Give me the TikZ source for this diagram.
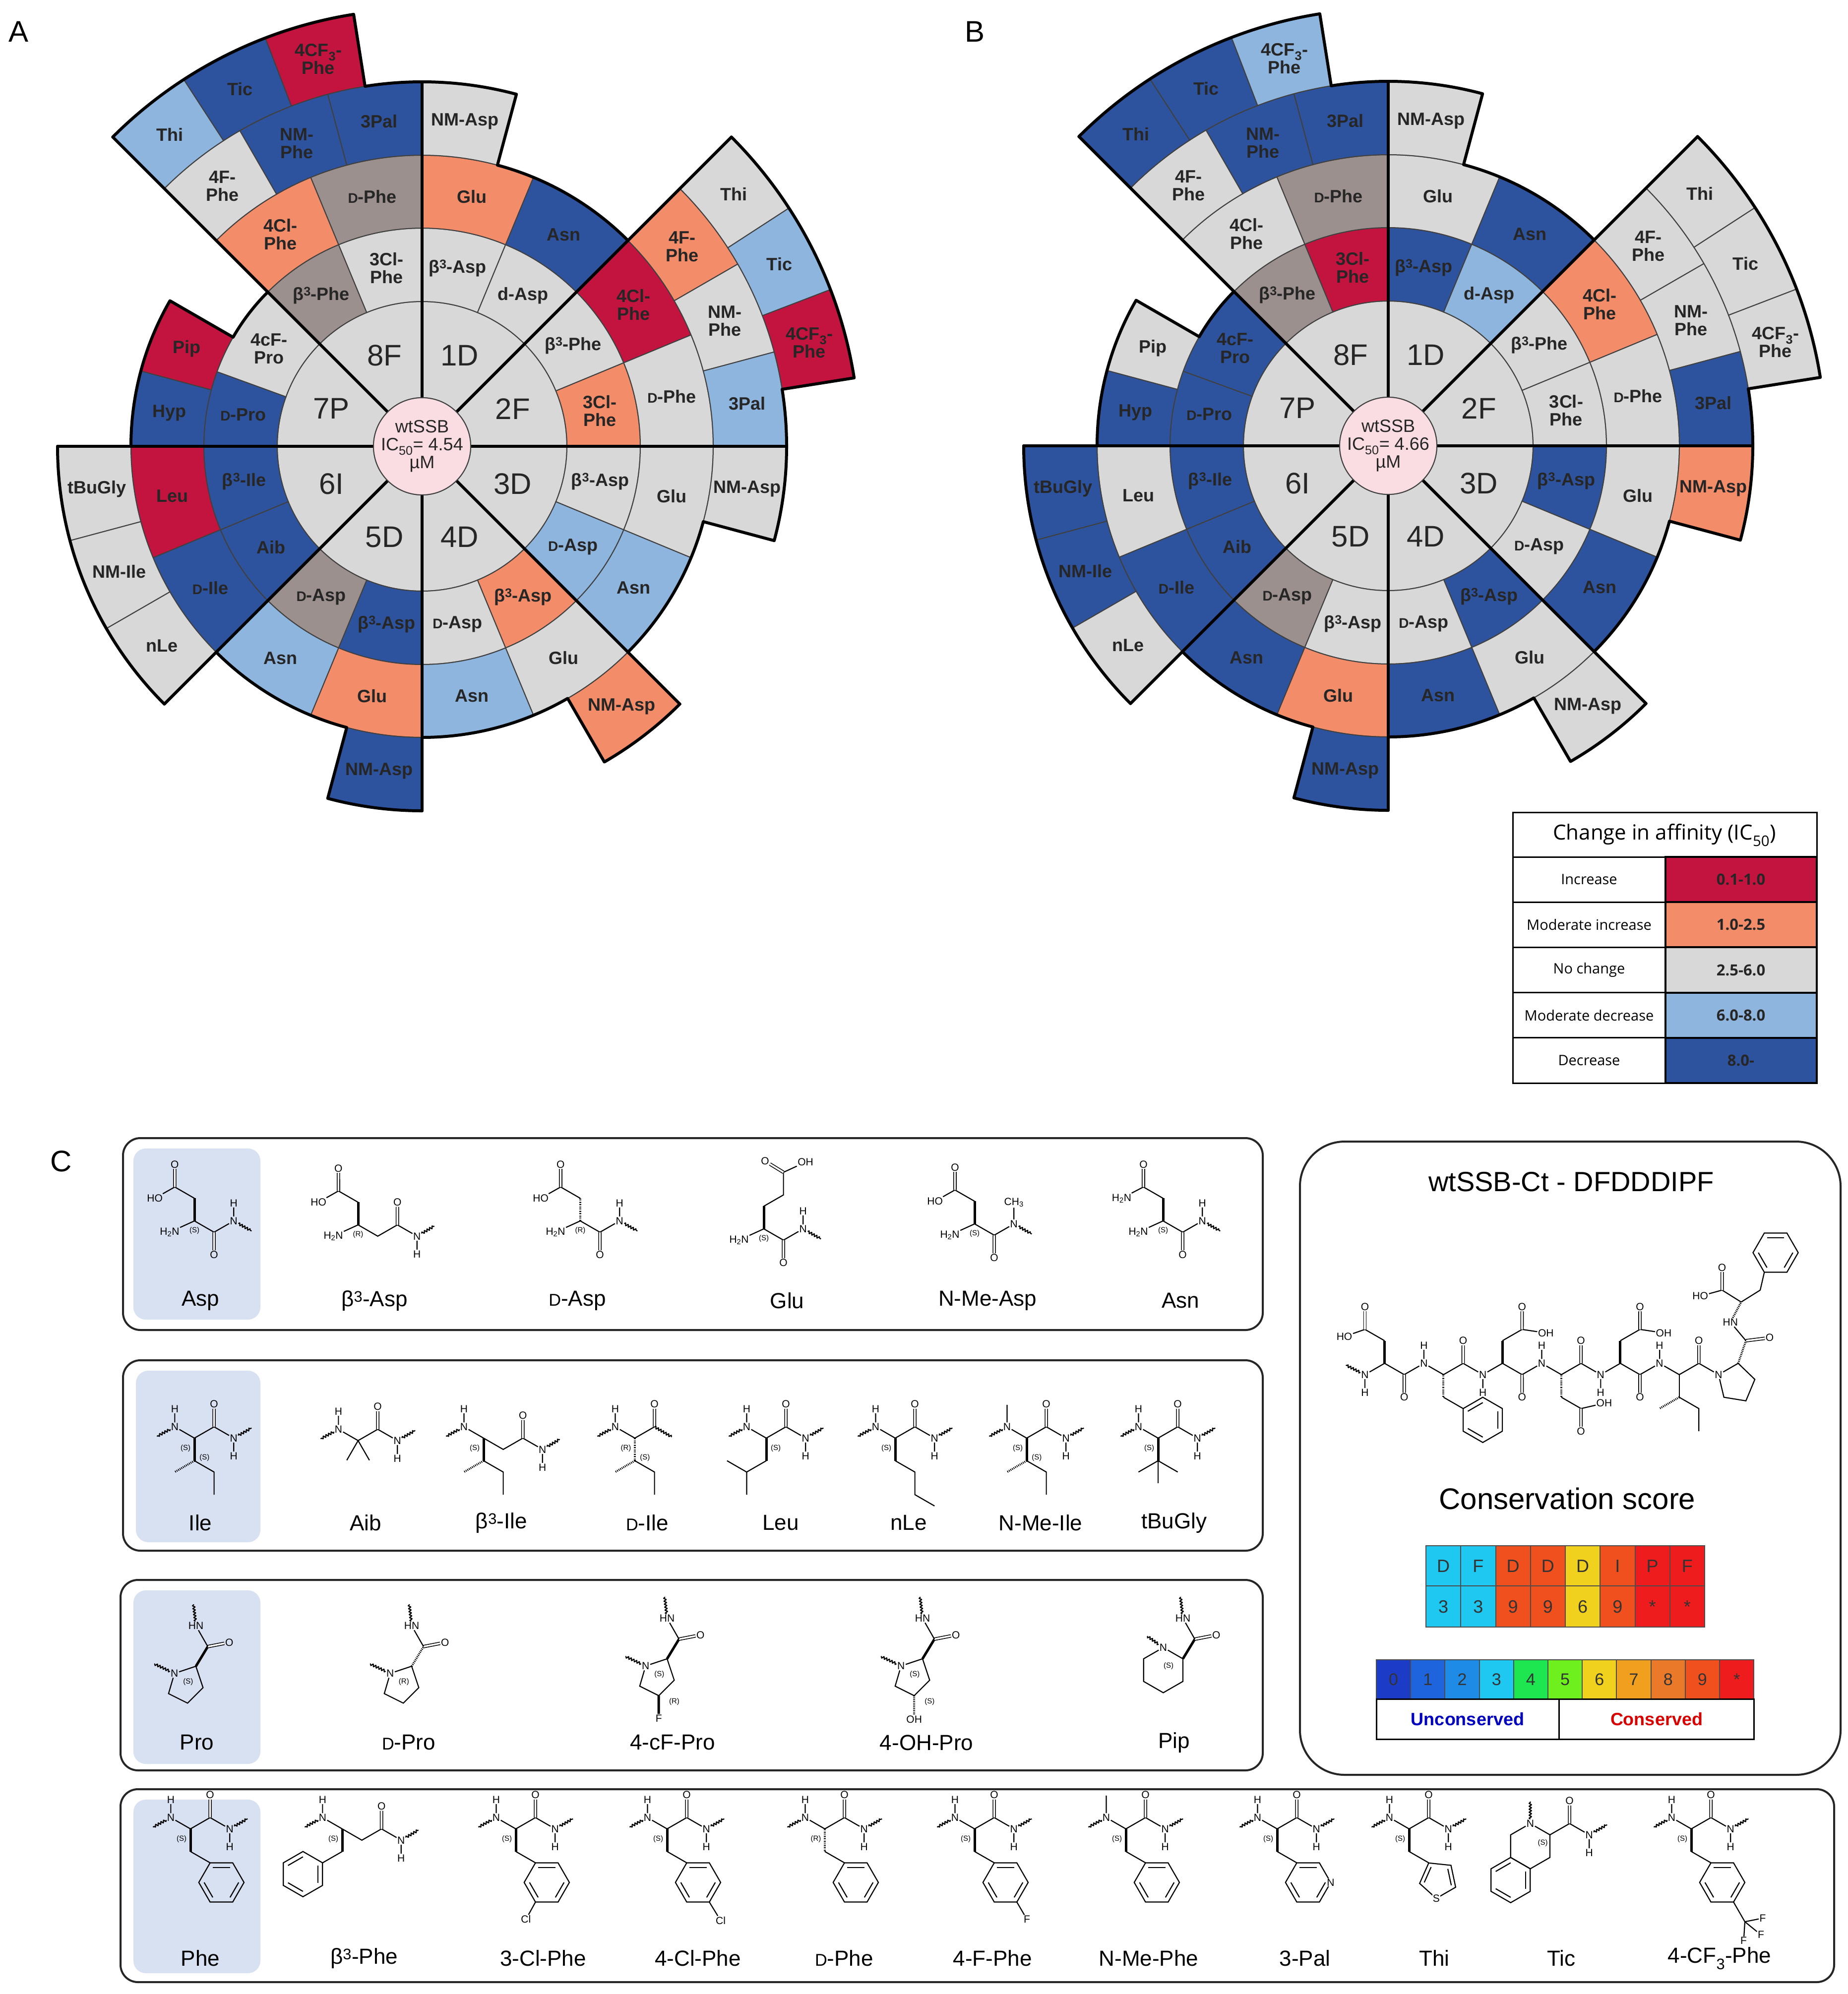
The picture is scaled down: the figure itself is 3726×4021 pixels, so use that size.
\documentclass[tikz,border=0pt]{standalone}
\usepackage{fontspec}
\setmainfont{Liberation Sans}
\newfontfamily\legfont{Open Sans}
\usepackage{graphicx}
\usetikzlibrary{decorations.pathmorphing}
\definecolor{cr}{HTML}{C3143F}
\definecolor{sal}{HTML}{F28C69}
\definecolor{lg}{HTML}{D9D8D9}
\definecolor{lb}{HTML}{8EB5DE}
\definecolor{db}{HTML}{2E539E}
\definecolor{br}{HTML}{9B908D}
\definecolor{pinkc}{HTML}{FADDE3}
\definecolor{boxb}{HTML}{D8E1F1}
\definecolor{s0}{HTML}{1C3CC8}\definecolor{s1}{HTML}{1E64DC}\definecolor{s2}{HTML}{1E8CE6}
\definecolor{s3}{HTML}{1EC8F0}\definecolor{s4}{HTML}{1EE650}\definecolor{s5}{HTML}{6EF01E}
\definecolor{s6}{HTML}{F0D21E}\definecolor{s7}{HTML}{F0A01E}\definecolor{s8}{HTML}{EA7A2A}
\definecolor{s9}{HTML}{F0501E}\definecolor{sx}{HTML}{EE1C1C}
\newcommand\fsz[1]{\fontsize{#1}{#1}\selectfont}
\newcommand\smD{\scalebox{0.78}{D}}
\tikzset{
 cellb/.style={draw=black!75, line width=2pt},
 outl/.style={line width=6pt, line cap=round, line join=round},
 lab/.style={font=\bfseries\fsz{36}, align=center, text=black!85, inner sep=0pt},
 seclab/.style={font=\fsz{60}, text=black!85},
 ctr/.style={font=\fsz{36}, align=center, text=black!85},
 atm/.style={inner sep=1.5pt, font=\fsz{21}},
 st/.style={inner sep=0pt, font=\fsz{15}},
 bnd/.style={line width=2.2pt},
 wdg/.style={line width=5pt},
 hsh/.style={line width=4pt, dash pattern=on 1.6pt off 2pt},
 dbl/.style={double, double distance=3.5pt, line width=1.6pt},
 mol/.style 2 args={shift={(#1,#2)}, yscale=-1, scale=1.2},
 cname/.style={font=\fsz{44}},
 cbox/.style={draw=black!85, line width=4pt, rounded corners=35pt},
 bbox/.style={fill=boxb, rounded corners=25pt},
 pl/.style={font=\fsz{60}}
}
\newcommand\wav[2]{\draw[bnd,decorate,decoration={snake,amplitude=2.2pt,segment length=6pt}] #1 -- #2;}
\newcommand\benz[2]{\begin{scope}[shift={#1}]
 \draw[bnd] (#2:38) -- ({#2+60}:38) -- ({#2+120}:38) -- ({#2+180}:38) -- ({#2+240}:38) -- ({#2+300}:38) -- cycle;
 \foreach \k in {60,180,300}{\draw[bnd] ({#2+\k}:29) -- ({#2+\k+60}:29);}
 \end{scope}}
\newcommand\amd[1]{\coordinate (cc) at (33,{-19*(#1)});
 \node[atm] (oo) at (33,{-57*(#1)}) {O};
 \node[atm] (nr) at (66,0) {N};
 \node[atm] (hr) at (66,{30*(#1)}) {H};
 \draw[bnd] (ca) -- (cc) -- (nr) -- (hr);
 \draw[dbl] (cc) -- (oo);
 \wav{(nr)}{(96,{-17*(#1)})}}
\newcommand\Lam{\node[atm,anchor=east] (nl) at (-24,-19) {H\textsubscript{2}N}; \draw[bnd] (ca) -- (nl);}
\newcommand\Lbn{\node[atm] (nl) at (-33,19) {N}; \node[atm] (hl) at (-33,49) {H}; \draw[bnd] (hl) -- (nl) -- (ca); \wav{(nl)}{(-63,3)}}
\newcommand\Lbme{\node[atm] (nl) at (-33,19) {N}; \draw[bnd] (nl) -- (ca); \draw[bnd] (nl) -- (-33,56); \wav{(nl)}{(-63,3)}}
\newcommand\aspside[2]{\coordinate (s1) at (0,38); \coordinate (s2) at (-33,57);
 \node[atm] (so) at (-33,95) {O}; \node[atm,anchor=east] (sh) at (-52,38) {#2};
 \draw[#1] (ca) -- (s1); \draw[bnd] (s1) -- (s2) -- (sh); \draw[dbl] (s2) -- (so);}
\newcommand\ileside[1]{\coordinate (s1) at (0,-38); \draw[#1] (ca) -- (s1);
 \draw[hsh] (s1) -- (-33,-57); \draw[bnd] (s1) -- (33,-57) -- (33,-95);}
% benzyl: ring hangs below-right, ipso at 120 deg, para vertex (71,-123)
\newcommand\pheside[1]{\coordinate (s1) at (0,-38); \draw[#1] (ca) -- (s1);
 \draw[bnd] (s1) -- (33,-57); \benz{(52,-90)}{120}}
\newcommand\betaB{\coordinate (m) at (33,-19); \coordinate (cc) at (66,0);
 \node[atm] (oo) at (66,38) {O}; \node[atm] (nr) at (99,-19) {N}; \node[atm] (hr) at (99,-49) {H};
 \draw[bnd] (ca) -- (m) -- (cc) -- (nr) -- (hr); \draw[dbl] (cc) -- (oo); \wav{(nr)}{(128,-2)}}
\newcommand\proring{\node[atm] (rn) at (-36,-12) {N}; \coordinate (rb) at (12,-36);
 \coordinate (rg) at (-14,-62); \coordinate (rd) at (-46,-46);
 \draw[bnd] (rn) -- (ca) -- (rb) -- (rg) -- (rd) -- (rn); \wav{(rn)}{(-70,4)}}
\newcommand\procarb[1]{\coordinate (cc) at (20,33); \node[atm] (oo) at (56,40) {O};
 \node[atm] (hn) at (0,68) {HN}; \draw[#1] (ca) -- (cc); \draw[dbl] (cc) -- (oo);
 \draw[bnd] (cc) -- (hn); \wav{(hn)}{(-4,104)}}

\newcommand\Wheel[4]{%
\begin{scope}[shift={(#1,#2)}, yscale=-1]
 \foreach \a/\b/\lab in {45/90/1D,0/45/2F,-45/0/3D,-90/-45/4D,-135/-90/5D,180/225/6I,135/180/7P,90/135/8F}{
  \filldraw[fill=lg,cellb] (\a:98) arc[start angle=\a,end angle=\b,radius=98] -- (\b:292) arc[start angle=\b,end angle=\a,radius=292] -- cycle;
  \node[seclab] at ({(\a+\b)/2}:198) {\lab};}
 \foreach \a/\b/\ra/\rb/\lab [count=\i from 0] in {
  67.5/90/292/440/β\textsuperscript{3}-Asp, 45/67.5/292/440/d-Asp, 22.5/45/292/440/β\textsuperscript{3}-Phe, 0/22.5/292/440/3Cl-\\Phe,
  -22.5/0/292/440/β\textsuperscript{3}-Asp, -45/-22.5/292/440/\smD-Asp, -67.5/-45/292/440/β\textsuperscript{3}-Asp, -90/-67.5/292/440/\smD-Asp,
  -112.5/-90/292/440/β\textsuperscript{3}-Asp, -135/-112.5/292/440/\smD-Asp, 180/202.5/292/440/β\textsuperscript{3}-Ile, 202.5/225/292/440/Aib,
  160/180/292/440/\smD-Pro, 135/160/292/440/4cF-\\Pro, 90/112.5/292/440/3Cl-\\Phe, 112.5/135/292/440/β\textsuperscript{3}-Phe,
  67.5/90/440/587/Glu, 45/67.5/440/587/Asn, 22.5/45/440/587/4Cl-\\Phe, 0/22.5/440/587/\smD-Phe,
  -22.5/0/440/587/Glu, -45/-22.5/440/587/Asn, -67.5/-45/440/587/Glu, -90/-67.5/440/587/Asn,
  -112.5/-90/440/587/Glu, -135/-112.5/440/587/Asn, 180/202.5/440/587/Leu, 202.5/225/440/587/\smD-Ile,
  165/180/440/587/Hyp, 150/165/440/587/Pip, 90/112.5/440/587/\smD-Phe, 112.5/135/440/587/4Cl-\\Phe,
  75/90/587/735/NM-Asp, 30/45/587/735/4F-\\Phe, 15/30/587/735/NM-\\Phe, 0/15/587/735/3Pal,
  -15/0/587/735/NM-Asp, -60/-45/587/735/NM-Asp, -105/-90/587/735/NM-Asp,
  180/195/587/735/tBuGly, 195/210/587/735/NM-Ile, 210/225/587/735/nLe,
  90/105/587/735/3Pal, 105/120/587/735/NM-\\Phe, 120/135/587/735/4F-\\Phe,
  33/45/735/882/Thi, 21/33/735/882/Tic, 9/21/735/882/4CF\textsubscript{3}-\\Phe,
  123/135/735/882/Thi, 111/123/735/882/Tic, 99/111/735/882/4CF\textsubscript{3}-\\Phe}{
  \pgfmathparse{#4[\i]}\edef\mycol{\pgfmathresult}
  \filldraw[fill=\mycol,cellb] (\a:\ra) arc[start angle=\a,end angle=\b,radius=\ra] -- (\b:\rb) arc[start angle=\b,end angle=\a,radius=\rb] -- cycle;
  \node[lab] at ({(\a+\b)/2}:{(\ra+\rb)/2}) {\lab};}
 \draw[outl] (45:587) arc[start angle=45,end angle=75,radius=587] -- (75:735) arc[start angle=75,end angle=90,radius=735];
 \draw[outl] (0:735) arc[start angle=0,end angle=9,radius=735] -- (9:882) arc[start angle=9,end angle=45,radius=882];
 \draw[outl] (-45:587) arc[start angle=-45,end angle=-15,radius=587] -- (-15:735) arc[start angle=-15,end angle=0,radius=735];
 \draw[outl] (-90:587) arc[start angle=-90,end angle=-60,radius=587] -- (-60:735) arc[start angle=-60,end angle=-45,radius=735];
 \draw[outl] (-135:587) arc[start angle=-135,end angle=-105,radius=587] -- (-105:735) arc[start angle=-105,end angle=-90,radius=735];
 \draw[outl] (180:735) arc[start angle=180,end angle=225,radius=735];
 \draw[outl] (135:440) arc[start angle=135,end angle=150,radius=440] -- (150:587) arc[start angle=150,end angle=180,radius=587];
 \draw[outl] (90:735) arc[start angle=90,end angle=99,radius=735] -- (99:882) arc[start angle=99,end angle=135,radius=882];
 \foreach \a/\r in {90/735,45/882,0/735,-45/735,-90/735,225/735,180/735,135/882}{\draw[outl] (\a:98) -- (\a:\r);}
 \filldraw[fill=pinkc,cellb] (0,0) circle[radius=98];
 \node[ctr] at (0,0) {wtSSB\\IC\textsubscript{50}= #3\\µM};
\end{scope}}

\begin{document}
\begin{tikzpicture}[x=1pt,y=-1pt]
\useasboundingbox[fill=white] (0,0) rectangle (3726,4021);
\node[pl] (lA) at (38,64) {A};
\node[pl] (lB) at (1965,64) {B};
\node[pl] (lC) at (123,2342) {C};

\Wheel{851}{900}{4.54}{{"lg","lg","lg","sal","lg","lb","sal","lg","db","br","db","db","db","lg","lg","br",
"sal","db","cr","lg","lg","lb","lg","lb","sal","lb","cr","db","db","cr","br","sal",
"lg","sal","lg","lb","lg","sal","db","lg","lg","lg","db","db","lg",
"lg","lb","cr","lb","db","cr"}}
\Wheel{2799}{899}{4.66}{{"db","lb","lg","lg","db","lg","db","lg","lg","br","db","db","db","db","cr","br",
"lg","db","sal","lg","lg","db","lg","db","sal","db","lg","db","db","lg","br","lg",
"lg","lg","lg","db","sal","lg","db","db","db","lg","db","db","lg",
"lg","lg","lg","db","db","lb"}}

% legend
\draw[line width=3pt] (3050,1638) rectangle (3663,1728);
\node[font=\legfont\fsz{42}] (lgh) at (3356,1684) {Change in affinity (IC\textsubscript{50})};
\foreach \t/\v/\c [count=\i from 0] in {Increase/0.1-1.0/cr, Moderate increase/1.0-2.5/sal, No change/2.5-6.0/lg, Moderate decrease/6.0-8.0/lb, Decrease/8.0-/db}{
 \pgfmathsetmacro\yt{1728+91.2*\i}
 \draw[line width=3pt] (3050,\yt) rectangle (3358,\yt+91.2);
 \filldraw[fill=\c, draw=black, line width=4pt] (3358,\yt) rectangle (3663,\yt+91.2);
 \node[font=\legfont\fsz{29}] at (3204,\yt+45.6) {\t};
 \node[font=\legfont\bfseries\fsz{31}, text=black!85] at (3510,\yt+45.6) {\v};}

% panel C boxes
\draw[cbox] (248,2295) rectangle (2546,2682);
\fill[bbox] (269,2316) rectangle (525,2661);
\draw[cbox] (248,2743) rectangle (2546,3127);
\fill[bbox] (274,2764) rectangle (525,3110);
\draw[cbox] (243,3186) rectangle (2546,3570);
\fill[bbox] (269,3207) rectangle (525,3557);
\draw[cbox] (243,3608) rectangle (3698,3997);
\fill[bbox] (269,3629) rectangle (525,3979);
\draw[cbox, rounded corners=90pt] (2621,2302) rectangle (3711,3579);

% names
\foreach \x/\t in {404/Asp,755/β\textsuperscript{3}-Asp,1164/\smD-Asp,1587/Glu,1991/N-Me-Asp,2380/Asn}{\node[cname] at (\x,2623) {\t};}
\foreach \x/\t in {404/Ile,737/Aib,1011/β\textsuperscript{3}-Ile,1305/\smD-Ile,1574/Leu,1832/nLe,2098/N-Me-Ile,2367/tBuGly}{\node[cname] at (\x,3071) {\t};}
\foreach \x/\t in {397/Pro,824/\smD-Pro,1356/4-cF-Pro,1868/4-OH-Pro,2367/Pip}{\node[cname] at (\x,3514) {\t};}
\foreach \x/\t in {404/Phe,734/β\textsuperscript{3}-Phe,1095/3-Cl-Phe,1407/4-Cl-Phe,1702/\smD-Phe,2001/4-F-Phe,2316/N-Me-Phe,2631/3-Pal,2892/Thi,3148/Tic,3467/4-CF\textsubscript{3}-Phe}{\node[cname] at (\x,3949) {\t};}

% ---- series 1
\begin{scope}[mol={392}{2462}]
 \coordinate (ca) at (0,0); \Lam \amd{1} \aspside{wdg}{HO} \node[st] at (0,-16) {(S)};
\end{scope}
\begin{scope}[mol={722}{2470}]
 \coordinate (ca) at (0,0); \Lam \aspside{wdg}{HO} \betaB \node[st] at (0,-16) {(R)};
\end{scope}
\begin{scope}[mol={1170}{2462}]
 \coordinate (ca) at (0,0); \Lam \amd{1} \aspside{hsh}{HO} \node[st] at (0,-16) {(R)};
\end{scope}
\begin{scope}[mol={1540}{2478}]
 \coordinate (ca) at (0,0); \Lam \amd{1}
 \coordinate (s1) at (0,38); \coordinate (s2) at (33,57); \coordinate (s3) at (33,95);
 \node[atm] (so) at (2,114) {O}; \node[atm] (sh) at (70,112) {OH};
 \draw[wdg] (ca) -- (s1); \draw[bnd] (s1) -- (s2) -- (s3) -- (sh); \draw[dbl] (s3) -- (so);
 \node[st] at (0,-16) {(S)};
\end{scope}
\begin{scope}[mol={1965}{2468}]
 \coordinate (ca) at (0,0); \Lam \aspside{wdg}{HO}
 \coordinate (cc) at (33,-19); \node[atm] (oo) at (33,-57) {O}; \node[atm] (nr) at (66,0) {N};
 \node[atm] (me) at (66,36) {CH\textsubscript{3}};
 \draw[bnd] (ca) -- (cc) -- (nr) -- (me); \draw[dbl] (cc) -- (oo); \wav{(nr)}{(96,-17)}
 \node[st] at (0,-16) {(S)};
\end{scope}
\begin{scope}[mol={2345}{2462}]
 \coordinate (ca) at (0,0); \Lam \amd{1} \aspside{wdg}{H\textsubscript{2}N} \node[st] at (0,-16) {(S)};
\end{scope}

% ---- series 2
\begin{scope}[mol={392}{2900}]
 \coordinate (ca) at (0,0); \Lbn \amd{-1} \ileside{wdg} \node[st] at (-15,-17) {(S)}; \node[st] at (17,-33) {(S)};
\end{scope}
\begin{scope}[mol={722}{2905}]
 \coordinate (ca) at (0,0); \Lbn \amd{-1} \draw[bnd] (ca) -- (-19,-33); \draw[bnd] (ca) -- (19,-33);
\end{scope}
\begin{scope}[mol={975}{2900}]
 \coordinate (ca) at (0,0); \Lbn \betaB \ileside{wdg} \node[st] at (-15,-17) {(S)};
\end{scope}
\begin{scope}[mol={1280}{2900}]
 \coordinate (ca) at (0,0); \Lbn \coordinate (cc) at (33,19); \node[atm] (oo) at (33,57) {O};
 \draw[bnd] (ca) -- (cc); \draw[dbl] (cc) -- (oo); \wav{(cc)}{(62,2)}
 \ileside{hsh} \node[st] at (-15,-17) {(R)}; \node[st] at (17,-33) {(S)};
\end{scope}
\begin{scope}[mol={1545}{2900}]
 \coordinate (ca) at (0,0); \Lbn \amd{-1}
 \coordinate (s1) at (0,-38); \coordinate (s2) at (-33,-57); \draw[wdg] (ca) -- (s1);
 \draw[bnd] (s1) -- (s2) -- (-33,-95); \draw[bnd] (s2) -- (-66,-38);
 \node[st] at (16,-17) {(S)};
\end{scope}
\begin{scope}[mol={1805}{2900}]
 \coordinate (ca) at (0,0); \Lbn \amd{-1}
 \coordinate (s1) at (0,-38); \draw[wdg] (ca) -- (s1);
 \draw[bnd] (s1) -- (33,-57) -- (33,-95) -- (66,-114);
 \node[st] at (-15,-17) {(S)};
\end{scope}
\begin{scope}[mol={2070}{2900}]
 \coordinate (ca) at (0,0); \Lbme \amd{-1} \ileside{wdg} \node[st] at (-15,-17) {(S)}; \node[st] at (17,-33) {(S)};
\end{scope}
\begin{scope}[mol={2335}{2900}]
 \coordinate (ca) at (0,0); \Lbn \amd{-1}
 \coordinate (s1) at (0,-38); \draw[wdg] (ca) -- (s1);
 \draw[bnd] (s1) -- (-33,-57); \draw[bnd] (s1) -- (33,-57); \draw[bnd] (s1) -- (0,-76);
 \node[st] at (-15,-17) {(S)};
\end{scope}

% ---- series 3
\begin{scope}[mol={395}{3360}]
 \coordinate (ca) at (0,0); \proring \procarb{wdg} \node[st] at (-13,-26) {(S)};
\end{scope}
\begin{scope}[mol={830}{3360}]
 \coordinate (ca) at (0,0); \proring \procarb{hsh} \node[st] at (-13,-26) {(R)};
\end{scope}
\begin{scope}[mol={1345}{3345}]
 \coordinate (ca) at (0,0); \proring \procarb{wdg}
 \node[atm] (ff) at (-14,-100) {F}; \draw[wdg] (rg) -- (ff);
 \node[st] at (-13,-26) {(S)}; \node[st] at (12,-72) {(R)};
\end{scope}
\begin{scope}[mol={1860}{3345}]
 \coordinate (ca) at (0,0); \proring \procarb{wdg}
 \node[atm] (oh) at (-14,-102) {OH}; \draw[hsh] (rg) -- (oh);
 \node[st] at (-13,-26) {(S)}; \node[st] at (12,-72) {(S)};
\end{scope}
\begin{scope}[mol={2385}{3345}]
 \coordinate (ca) at (0,0); \node[atm] (rn) at (-33,19) {N};
 \coordinate (rb) at (0,-38); \coordinate (rg) at (-33,-57); \coordinate (rd) at (-66,-38); \coordinate (re) at (-66,0);
 \draw[bnd] (rn) -- (ca) -- (rb) -- (rg) -- (rd) -- (re) -- (rn); \wav{(rn)}{(-60,38)}
 \procarb{wdg} \node[st] at (-24,-12) {(S)};
\end{scope}

% ---- series 4
\begin{scope}[mol={384}{3688}]
 \coordinate (ca) at (0,0); \Lbn \amd{-1} \pheside{wdg} \node[st] at (-15,-17) {(S)};
\end{scope}
\begin{scope}[mol={690}{3688}]
 \coordinate (ca) at (0,0); \Lbn \betaB
 \coordinate (s1) at (0,-38); \draw[wdg] (ca) -- (s1); \draw[bnd] (s1) -- (-33,-57); \benz{(-66,-76)}{30}
 \node[st] at (-15,-17) {(S)};
\end{scope}
\begin{scope}[mol={1040}{3688}]
 \coordinate (ca) at (0,0); \Lbn \amd{-1} \pheside{wdg}
 \node[atm] (cl) at (17,-152) {Cl}; \draw[bnd] (33,-123) -- (cl); \node[st] at (-15,-17) {(S)};
\end{scope}
\begin{scope}[mol={1345}{3688}]
 \coordinate (ca) at (0,0); \Lbn \amd{-1} \pheside{wdg}
 \node[atm] (cl) at (90,-154) {Cl}; \draw[bnd] (71,-123) -- (cl); \node[st] at (-15,-17) {(S)};
\end{scope}
\begin{scope}[mol={1663}{3688}]
 \coordinate (ca) at (0,0); \Lbn \amd{-1} \pheside{hsh} \node[st] at (-15,-17) {(R)};
\end{scope}
\begin{scope}[mol={1965}{3688}]
 \coordinate (ca) at (0,0); \Lbn \amd{-1} \pheside{wdg}
 \node[atm] (fl) at (88,-152) {F}; \draw[bnd] (71,-123) -- (fl); \node[st] at (-15,-17) {(S)};
\end{scope}
\begin{scope}[mol={2270}{3688}]
 \coordinate (ca) at (0,0); \Lbme \amd{-1} \pheside{wdg} \node[st] at (-15,-17) {(S)};
\end{scope}
\begin{scope}[mol={2575}{3688}]
 \coordinate (ca) at (0,0); \Lbn \amd{-1} \pheside{wdg}
 \node[atm, fill=white, inner sep=1pt] (pn) at (90,-90) {N}; \node[st] at (-15,-17) {(S)};
\end{scope}
\begin{scope}[mol={2841}{3688}]
 \coordinate (ca) at (0,0); \Lbn \amd{-1}
 \coordinate (s1) at (0,-38); \draw[wdg] (ca) -- (s1); \draw[bnd] (s1) -- (33,-57);
 \begin{scope}[shift={(49,-85)}]
  \draw[bnd] (120:32) -- (48:32) -- (-24:32) -- (-96:32) -- (-168:32) -- cycle;
  \draw[bnd] (48:24) -- (-24:24); \draw[bnd] (-168:24) -- (120:24);
  \node[atm, fill=white, inner sep=1pt] (ts) at (-96:32) {S};
 \end{scope}
 \node[st] at (-15,-17) {(S)};
\end{scope}
\begin{scope}[mol={3125}{3700}]
 \coordinate (ca) at (0,0); \node[atm] (nl) at (-33,19) {N}; \wav{(nl)}{(-33,56)}
 \coordinate (tb) at (0,-38); \coordinate (t4) at (-33,-57); \coordinate (t8) at (-66,-38); \coordinate (t1) at (-66,0);
 \draw[bnd] (nl) -- (ca) -- (tb) -- (t4) -- (t8) -- (t1) -- (nl);
 \benz{(-66,-76)}{30} \amd{-1} \node[st] at (-12,-14) {(S)};
\end{scope}
\begin{scope}[mol={3410}{3688}]
 \coordinate (ca) at (0,0); \Lbn \amd{-1} \pheside{wdg}
 \coordinate (cf) at (90,-156); \draw[bnd] (71,-123) -- (cf);
 \node[atm] (f1) at (120,-150) {F}; \node[atm] (f2) at (117,-178) {F}; \node[atm] (f3) at (88,-188) {F};
 \draw[bnd] (cf) -- (f1); \draw[bnd] (cf) -- (f2); \draw[bnd] (cf) -- (f3);
 \node[st] at (-15,-17) {(S)};
\end{scope}

% ---- right box
\node[font=\fsz{56}] (ttl) at (3168,2383) {wtSSB-Ct - DFDDDIPF};
\begin{scope}[shift={(2752,2772)}, yscale=-1, scale=1.2]
 \node[atm] (p0) at (0,0) {N}; \node[atm] (p0h) at (0,-30) {H}; \draw[bnd] (p0) -- (p0h); \wav{(p0)}{(-32,16)}
 \coordinate (p1) at (33,19); \coordinate (p2) at (66,0); \node[atm] (p2o) at (66,-38) {O};
 \node[atm] (p3) at (99,19) {N}; \node[atm] (p3h) at (99,49) {H};
 \coordinate (p4) at (132,0); \coordinate (p5) at (165,19); \node[atm] (p5o) at (165,57) {O};
 \node[atm] (p6) at (198,0) {N}; \node[atm] (p6h) at (198,-30) {H};
 \coordinate (p7) at (231,19); \coordinate (p8) at (264,0); \node[atm] (p8o) at (264,-38) {O};
 \node[atm] (p9) at (297,19) {N}; \node[atm] (p9h) at (297,49) {H};
 \coordinate (p10) at (330,0); \coordinate (p11) at (363,19); \node[atm] (p11o) at (363,57) {O};
 \node[atm] (p12) at (396,0) {N}; \node[atm] (p12h) at (396,-30) {H};
 \coordinate (p13) at (429,19); \coordinate (p14) at (462,0); \node[atm] (p14o) at (462,-38) {O};
 \node[atm] (p15) at (495,19) {N}; \node[atm] (p15h) at (495,49) {H};
 \coordinate (p16) at (528,0); \coordinate (p17) at (561,19); \node[atm] (p17o) at (561,57) {O};
 \node[atm] (p18) at (594,0) {N}; \coordinate (p19) at (627,19);
 \draw[bnd] (p0) -- (p1) -- (p2) -- (p3) -- (p4) -- (p5) -- (p6) -- (p7) -- (p8) -- (p9) -- (p10) -- (p11) -- (p12) -- (p13) -- (p14) -- (p15) -- (p16) -- (p17) -- (p18) -- (p19);
 \draw[dbl] (p2) -- (p2o); \draw[dbl] (p5) -- (p5o); \draw[dbl] (p8) -- (p8o);
 \draw[dbl] (p11) -- (p11o); \draw[dbl] (p14) -- (p14o); \draw[dbl] (p17) -- (p17o);
 \draw[bnd] (p3) -- (p3h); \draw[bnd] (p6) -- (p6h); \draw[bnd] (p9) -- (p9h); \draw[bnd] (p12) -- (p12h); \draw[bnd] (p15) -- (p15h);
 \coordinate (q1) at (33,57); \coordinate (q2) at (0,76); \node[atm] (q2o) at (0,114) {O}; \node[atm,anchor=east] (q2h) at (-20,64) {HO};
 \draw[wdg] (p1) -- (q1); \draw[bnd] (q1) -- (q2) -- (q2h); \draw[dbl] (q2) -- (q2o);
 \coordinate (q3) at (132,-38); \draw[hsh] (p4) -- (q3); \draw[bnd] (q3) -- (165,-57); \benz{(198,-76)}{150}
 \coordinate (q4) at (231,57); \coordinate (q5) at (264,76); \node[atm] (q5o) at (264,114) {O}; \node[atm] (q5h) at (304,70) {OH};
 \draw[wdg] (p7) -- (q4); \draw[bnd] (q4) -- (q5) -- (q5h); \draw[dbl] (q5) -- (q5o);
 \coordinate (q7) at (330,-38); \coordinate (q8) at (363,-57); \node[atm] (q8o) at (363,-95) {O}; \node[atm] (q8h) at (402,-48) {OH};
 \draw[hsh] (p10) -- (q7); \draw[bnd] (q7) -- (q8) -- (q8h); \draw[dbl] (q8) -- (q8o);
 \coordinate (q10) at (429,57); \coordinate (q11) at (462,76); \node[atm] (q11o) at (462,114) {O}; \node[atm] (q11h) at (502,70) {OH};
 \draw[wdg] (p13) -- (q10); \draw[bnd] (q10) -- (q11) -- (q11h); \draw[dbl] (q11) -- (q11o);
 \coordinate (q13) at (528,-38); \draw[bnd] (p16) -- (q13); \draw[hsh] (q13) -- (495,-57); \draw[bnd] (q13) -- (561,-57) -- (561,-95);
 \coordinate (r1) at (655,-8); \coordinate (r2) at (640,-44); \coordinate (r3) at (603,-38);
 \draw[bnd] (p19) -- (r1) -- (r2) -- (r3) -- (p18);
 \coordinate (q20) at (640,57); \node[atm] (q20o) at (680,62) {O}; \node[atm] (q21) at (614,88) {HN};
 \draw[hsh] (p19) -- (q20); \draw[dbl] (q20) -- (q20o); \draw[bnd] (q20) -- (q21);
 \coordinate (q22) at (632,122); \coordinate (q23) at (600,142); \node[atm] (q23o) at (600,180) {O};
 \node[atm,anchor=east] (q23h) at (578,132) {HO}; \coordinate (q25) at (664,142);
 \draw[hsh] (q21) -- (q22); \draw[bnd] (q22) -- (q23) -- (q23h); \draw[dbl] (q23) -- (q23o);
 \draw[bnd] (q22) -- (q25) -- (671,172); \benz{(690,205)}{-120}
\end{scope}
\node[font=\fsz{60}] (cst) at (3160,3022) {Conservation score};
\foreach \l/\n/\c [count=\i from 0] in {D/3/s3,F/3/s3,D/9/s9,D/9/s9,D/6/s6,I/9/s9,P/*/sx,F/*/sx}{
 \pgfmathsetmacro\xl{2875+70.25*\i}
 \filldraw[fill=\c, draw=black!70, line width=2pt] (\xl,3117) rectangle (\xl+70.25,3198);
 \filldraw[fill=\c, draw=black!70, line width=2pt] (\xl,3198) rectangle (\xl+70.25,3281);
 \node[font=\fsz{36}, text=black!80] at (\xl+35,3158) {\l};
 \node[font=\fsz{36}, text=black!80] at (\xl+35,3240) {\n};}
\foreach \n/\c [count=\i from 0] in {0/s0,1/s1,2/s2,3/s3,4/s4,5/s5,6/s6,7/s7,8/s8,9/s9,*/sx}{
 \pgfmathsetmacro\xl{2775+69.2*\i}
 \filldraw[fill=\c, draw=black!70, line width=2pt] (\xl,3347) rectangle (\xl+69.2,3426);
 \node[font=\fsz{34}, text=black!80] at (\xl+34.6,3387) {\n};}
\draw[line width=3pt] (2775,3426) rectangle (3143,3507);
\draw[line width=3pt] (3143,3426) rectangle (3536,3507);
\node[font=\bfseries\fsz{36}, text=blue!75!black] (unc) at (2959,3467) {Unconserved};
\node[font=\bfseries\fsz{36}, text=red!85!black] (con) at (3340,3467) {Conserved};
\end{tikzpicture}
\end{document}
